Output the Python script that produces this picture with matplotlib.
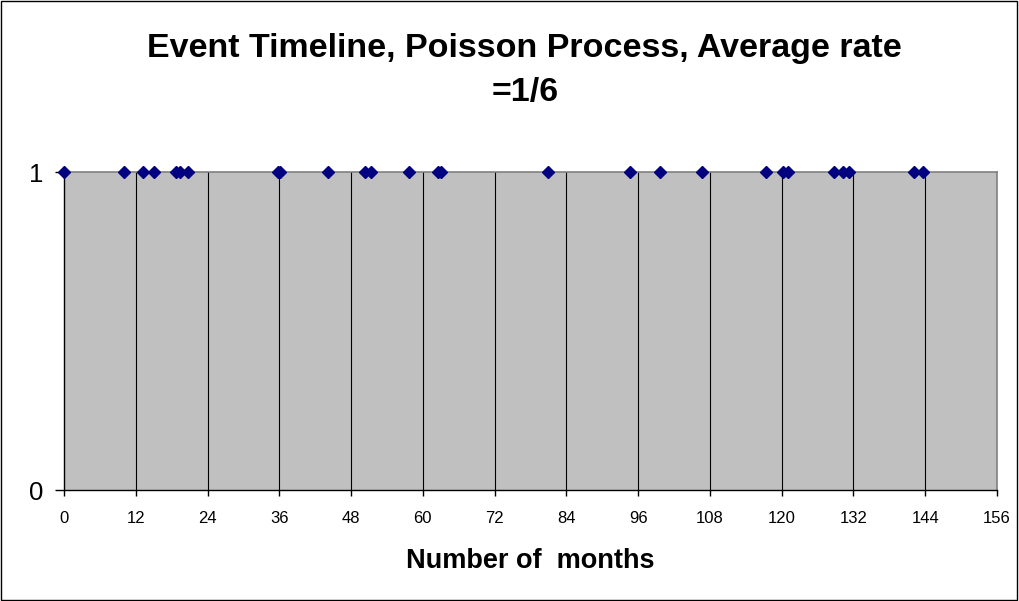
import matplotlib.pyplot as plt
from matplotlib.patches import Rectangle

# event times (months), all plotted at y = 1
event_months = [0, 10.0, 13.2, 15.0, 18.7, 19.4, 20.7, 35.7, 36.1, 44.2,
                50.3, 51.4, 57.7, 62.6, 63.1, 80.9, 94.7, 99.6, 106.6,
                117.3, 120.2, 121.1, 128.7, 130.2, 131.2, 142.2, 143.6]
event_level = [1] * len(event_months)

x_ticks = list(range(0, 157, 12))
y_ticks = [0, 1]

plt.rcParams['font.family'] = ['Liberation Sans', 'DejaVu Sans']

fig = plt.figure(figsize=(10.19, 6.01), dpi=100)
ax = fig.add_axes([64 / 1019, 111 / 601, 933 / 1019, 318 / 601])

ax.set_facecolor('#C0C0C0')
ax.set_xlim(0, 156)
ax.set_ylim(0, 1)

# vertical gridlines every 12 months
for t in x_ticks[1:-1]:
    ax.axvline(t, color='black', linewidth=0.8, zorder=1)

ax.plot(event_months, event_level, linestyle='none', marker='D',
        markersize=6, color='#000080', clip_on=False, zorder=5)

ax.set_xticks(x_ticks)
ax.set_yticks(y_ticks)
ax.tick_params(axis='x', labelsize=12, direction='out', length=4, width=1, pad=11)
ax.tick_params(axis='y', labelsize=18.5, direction='out', length=6.5, width=1, pad=8)

for side in ['top', 'right']:
    ax.spines[side].set_color('#808080')
    ax.spines[side].set_linewidth(1.2)
for side in ['left', 'bottom']:
    ax.spines[side].set_color('black')
    ax.spines[side].set_linewidth(1)

ax.set_xlabel('Number of  months', fontsize=19.5, fontweight='bold', labelpad=16)

fig.text(0.515, 0.945, 'Event Timeline, Poisson Process, Average rate\n=1/6',
         ha='center', va='top', fontsize=24.5, fontweight='bold', linespacing=1.55)

# chart border
fig.patches.append(Rectangle((0.001, 0.002), 0.997, 0.996, transform=fig.transFigure,
                             fill=False, edgecolor='black', linewidth=1))

fig.savefig('out.png', dpi=100)
